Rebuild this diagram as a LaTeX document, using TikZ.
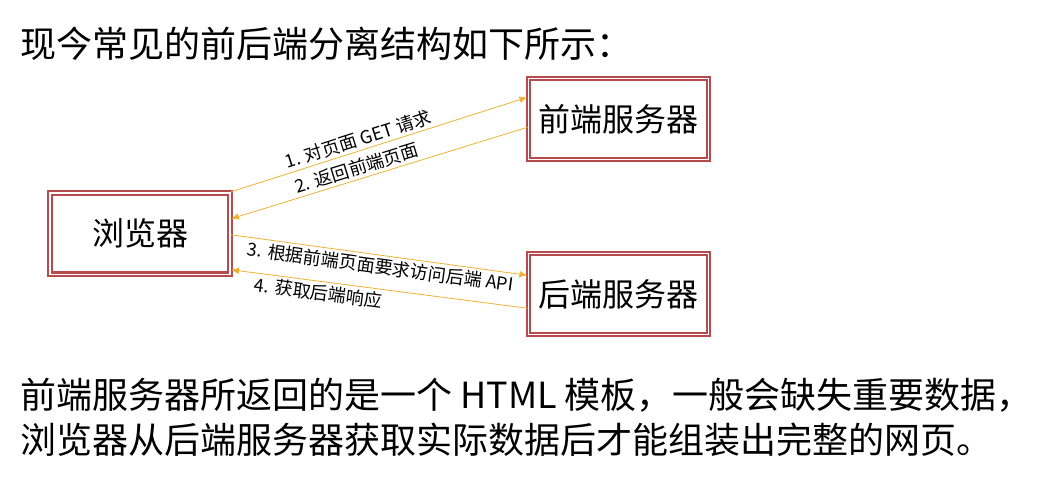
\documentclass[tikz,border=0pt]{standalone}
\usepackage{fontspec}
\setmainfont{Noto Sans CJK SC}
\usetikzlibrary{arrows.meta,calc}

\definecolor{boxred}{HTML}{B84A4E}
\definecolor{linegold}{HTML}{EDB234}

\tikzset{
  server/.style={draw=boxred, line width=1.6pt, double=white, double distance=1pt,
    minimum width=135pt, minimum height=61pt, inner sep=0pt,
    font=\fontsize{24}{28}\selectfont},
  msg/.style={draw=linegold, line width=0.6pt, -{Latex[length=6pt,width=5pt]}},
  msglabel/.style={font=\fontsize{13.5}{15}\selectfont, sloped, inner sep=2pt},
  para/.style={anchor=west, inner sep=0pt, font=\fontsize{27}{32}\selectfont}
}

\begin{document}
\begin{tikzpicture}[x=0.75pt,y=-0.75pt]
\useasboundingbox (0,0) rectangle (1053,483);

\node[para] (title) at (20,44) {现今常见的前后端分离结构如下所示：};

% the three boxes
\node[server] (browser) at (140,233.5) {浏览器};
\node[server] (front) at (618.5,119) {前端服务器};
\node[server] (back) at (618.5,294) {后端服务器};

% requests and replies
\draw[msg] (browser.north east) -- ($(front.north west)+(0,20)$)
  node[msglabel,above,pos=0.44] {1. 对页面 GET 请求};
\draw[msg] ($(front.north west)+(0,50)$) -- ($(browser.north east)+(0,27)$)
  node[msglabel,above,pos=0.565] {2. 返回前端页面};
\draw[msg] ($(browser.north east)+(0,43)$) -- ($(back.north west)+(0,23)$)
  node[msglabel,below,pos=0.51] {3. 根据前端页面要求访问后端 API};
\draw[msg] ($(back.north west)+(0,56)$) -- ($(browser.north east)+(0,78)$)
  node[msglabel,below,pos=0.70] {4. 获取后端响应};

\node[para] (line1) at (20,395) {前端服务器所返回的是一个 HTML 模板，一般会缺失重要数据，};
\node[para] (line2) at (20,440) {浏览器从后端服务器获取实际数据后才能组装出完整的网页。};
\end{tikzpicture}
\end{document}
